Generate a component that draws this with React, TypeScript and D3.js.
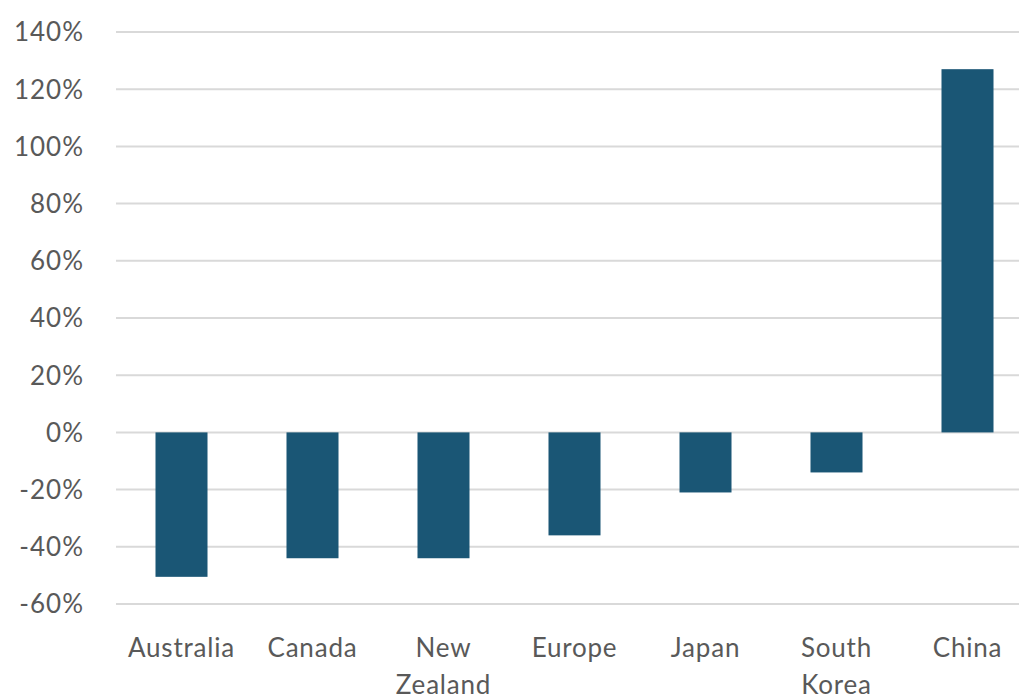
import React from "react";
import * as d3 from "d3";

const categories: string[][] = [
  ["Australia"],
  ["Canada"],
  ["New", "Zealand"],
  ["Europe"],
  ["Japan"],
  ["South", "Korea"],
  ["China"],
];
const values: number[] = [-50.5, -44, -44, -36, -21, -14, 127];
const yTicks: number[] = [-60, -40, -20, 0, 20, 40, 60, 80, 100, 120, 140];

const W = 1019;
const H = 698;
const BAR = "#1a5675";
const GRID = "#d9d9d9";
const TEXT = "#595959";
const FONT = "Lato, 'Open Sans', sans-serif";

export default function App() {
  const keys = categories.map((c) => c.join(" "));
  const x = d3.scaleBand<string>().domain(keys).range([116, 1033]).paddingInner(0.603).paddingOuter(0.3015);
  const y = d3.scaleLinear().domain([-60, 140]).range([604, 32]);

  return (
    <div style={{ position: "absolute", left: 0, top: 0 }}>
      <svg width={W} height={H} style={{ display: "block", background: "#fff" }}>
        {yTicks.map((t) => (
          <g key={t}>
            <line x1={116} x2={W} y1={y(t)} y2={y(t)} stroke={GRID} strokeWidth={2} />
            <text
              x={84}
              y={y(t)}
              dy="0.36em"
              textAnchor="end"
              fontFamily={FONT}
              fontSize={26}
              letterSpacing={1}
              fill={TEXT}
            >
              {`${t}%`}
            </text>
          </g>
        ))}
        {values.map((v, i) => (
          <rect
            key={keys[i]}
            x={x(keys[i])}
            width={x.bandwidth()}
            y={y(Math.max(0, v))}
            height={Math.abs(y(v) - y(0))}
            fill={BAR}
          />
        ))}
        {categories.map((lines, i) => (
          <text
            key={keys[i]}
            x={(x(keys[i]) as number) + x.bandwidth() / 2}
            y={657}
            textAnchor="middle"
            fontFamily={FONT}
            fontSize={26}
            letterSpacing={0.8}
            fill={TEXT}
          >
            {lines.map((l, j) => (
              <tspan key={j} x={(x(keys[i]) as number) + x.bandwidth() / 2} dy={j === 0 ? 0 : 37}>
                {l}
              </tspan>
            ))}
          </text>
        ))}
      </svg>
    </div>
  );
}
